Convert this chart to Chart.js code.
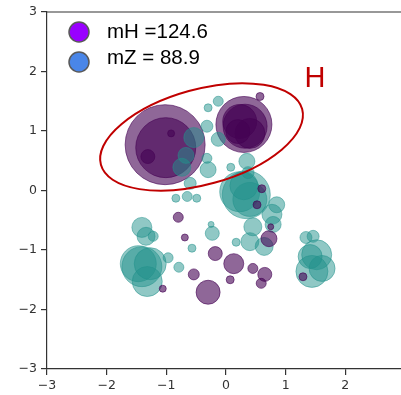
<!DOCTYPE html>
<html>
<head>
<meta charset="utf-8">
<script src="https://cdn.jsdelivr.net/npm/chart.js@4/dist/chart.umd.min.js"></script>
<style>
  html, body { margin: 0; padding: 0; overflow: hidden; background: #fff; }
  canvas { display: block; }
</style>
</head>
<body>
<canvas id="bubbleChart" width="412" height="395"></canvas>
<script>
// large purple bubbles (drawn behind the teal ones)
var bigPurpleX = [-1.02, -1.01, -0.92, -1.31, 0.30, 0.32, 0.23, 0.40, 0.20, 0.57];
var bigPurpleY = [0.77, 0.72, 0.96, 0.57, 1.11, 1.08, 1.16, 0.96, 0.99, 1.58];
var bigPurpleR = [40, 30, 3.5, 7, 28, 22, 17, 15, 12, 4];

// small purple bubbles (drawn on top)
var smallPurpleX = [-0.80, -0.69, -0.18, -0.54, -0.30, -1.06, 0.13, 0.07, 0.45, 0.65, 0.59, 0.72, 0.75, 1.29, 0.60, 0.52];
var smallPurpleY = [-0.45, -0.79, -1.06, -1.41, -1.71, -1.65, -1.23, -1.50, -1.31, -1.41, -1.56, -0.81, -0.61, -1.45, 0.03, -0.24];
var smallPurpleR = [5, 3.5, 7, 5.5, 12, 3.5, 10, 4, 5, 7, 5, 8, 3, 4, 4, 4];

// teal bubbles
var tealX = [0.34, 0.23, 0.40, 0.30, 0.85, 0.77, 0.45, 0.40, 0.64, 0.79, 0.17, -0.23, -0.25, -0.57,
             -1.41, -1.34, -1.22, -1.41, -1.47, -1.32, -1.27, -0.97, -0.79, -0.84, -0.65, -0.49,
             1.46, 1.34, 1.52, 1.44, 1.61, 1.41,
             -0.13, -0.30, -0.32, -0.54, -0.13, -0.67, -0.74, -0.32, -0.30, -0.60, 0.08, 0.35, 0.37];
var tealY = [-0.07, -0.02, -0.15, 0.08, -0.24, -0.40, -0.61, -0.86, -0.94, -0.57, -0.87, -0.72, -0.57, -0.97,
             -0.62, -0.77, -0.77, -1.28, -1.23, -1.53, -1.23, -1.13, -1.29, -0.13, -0.10, -0.13,
             -0.77, -0.79, -1.08, -1.36, -1.31, -1.11,
             1.50, 1.39, 1.08, 0.89, 0.86, 0.59, 0.39, 0.54, 0.35, 0.12, 0.39, 0.49, 0.30];
var tealR = [24, 20, 17, 14, 8, 10, 9, 9, 9, 8, 4, 7, 3, 4,
             10, 9, 5, 20, 18, 15, 16, 5, 5, 4, 5, 4,
             6, 6, 15, 16, 13, 12,
             5, 4, 6, 10, 7, 8, 9, 5, 8, 6, 4, 8, 6];

var legendLabels = ['mH =124.6', 'mZ = 88.9'];
var legendColors = ['#9900ff', '#4a86e8'];

// ellipse around the H cluster, in data units
var ellipseCenter = [-0.41, 0.90];
var ellipseRadii = [1.75, 0.80];
var ellipseAngle = 15.5;
var ellipseLabel = 'H';
var ellipseLabelPos = [1.49, 1.88];

var tickValues = [-3, -2, -1, 0, 1, 2, 3];

function toPoints(xs, ys, rs) {
    return xs.map(function (x, i) { return { x: x, y: ys[i], r: rs[i] }; });
}

function minusLabel(v) {
    return v < 0 ? '\u2212' + Math.abs(v) : String(v);
}

var purple = 'rgba(68, 1, 84, 0.6)';
var teal = 'rgba(33, 145, 140, 0.5)';

var extras = {
    id: 'extras',
    afterDraw: function (chart) {
        var c = chart.ctx, a = chart.chartArea;
        var xs = chart.scales.x, ys = chart.scales.y;
        c.save();
        // frame (top spine)
        c.strokeStyle = '#333';
        c.lineWidth = 1.2;
        c.beginPath();
        c.moveTo(a.left, a.top);
        c.lineTo(a.right, a.top);
        c.lineTo(a.right, a.bottom);
        c.stroke();

        // ellipse
        var cx = xs.getPixelForValue(ellipseCenter[0]);
        var cy = ys.getPixelForValue(ellipseCenter[1]);
        var rx = Math.abs(xs.getPixelForValue(ellipseRadii[0]) - xs.getPixelForValue(0));
        var ry = Math.abs(ys.getPixelForValue(ellipseRadii[1]) - ys.getPixelForValue(0));
        c.strokeStyle = '#c00000';
        c.lineWidth = 2;
        c.beginPath();
        c.ellipse(cx, cy, rx, ry, -ellipseAngle * Math.PI / 180, 0, Math.PI * 2);
        c.stroke();

        c.fillStyle = '#c00000';
        c.font = '29px "Liberation Sans", Arial, sans-serif';
        c.textAlign = 'center';
        c.textBaseline = 'middle';
        c.fillText(ellipseLabel, xs.getPixelForValue(ellipseLabelPos[0]), ys.getPixelForValue(ellipseLabelPos[1]));

        // legend
        c.textAlign = 'left';
        c.font = '20.5px "Liberation Sans", Arial, sans-serif';
        for (var i = 0; i < legendLabels.length; i++) {
            var ly = 32 + i * 30;
            c.beginPath();
            c.arc(79, ly, 10, 0, Math.PI * 2);
            c.fillStyle = legendColors[i];
            c.fill();
            c.strokeStyle = '#595959';
            c.lineWidth = 1.5;
            c.stroke();
            c.fillStyle = '#000';
            c.fillText(legendLabels[i], 107, ly - (i ? 4 : 0));
        }
        c.restore();
    }
};

var axisFont = { family: '"DejaVu Sans", sans-serif', size: 12.5 };

var ctx = document.getElementById('bubbleChart').getContext('2d');
var chart = new Chart(ctx, {
    type: 'bubble',
    data: {
        datasets: [{
            data: toPoints(smallPurpleX, smallPurpleY, smallPurpleR),
            backgroundColor: purple,
            borderColor: purple,
            borderWidth: 1,
            order: 0
        }, {
            data: toPoints(tealX, tealY, tealR),
            backgroundColor: teal,
            borderColor: teal,
            borderWidth: 1,
            order: 1
        }, {
            data: toPoints(bigPurpleX, bigPurpleY, bigPurpleR),
            backgroundColor: purple,
            borderColor: purple,
            borderWidth: 1,
            order: 2
        }]
    },
    options: {
        responsive: false,
        animation: false,
        layout: { autoPadding: false, padding: { top: 12, right: 7, left: 0, bottom: 0 } },
        plugins: {
            legend: { display: false },
            tooltip: { enabled: false }
        },
        scales: {
            x: {
                type: 'linear',
                min: -3, max: 3,
                afterBuildTicks: function (s) { s.ticks = tickValues.map(function (v) { return { value: v }; }); },
                afterFit: function (s) { s.height = 26; },
                grid: { drawOnChartArea: false, drawTicks: true, tickLength: 6, tickColor: '#333', lineWidth: 1.2 },
                border: { color: '#333', width: 1.2 },
                ticks: { color: '#333', font: axisFont, padding: 3, maxRotation: 0, callback: minusLabel }
            },
            y: {
                type: 'linear',
                min: -3, max: 3,
                afterBuildTicks: function (s) { s.ticks = tickValues.map(function (v) { return { value: v }; }); },
                afterFit: function (s) { s.width = 47; },
                grid: { drawOnChartArea: false, drawTicks: true, tickLength: 6, tickColor: '#333', lineWidth: 1.2 },
                border: { color: '#333', width: 1.2 },
                ticks: { color: '#333', font: axisFont, padding: 4, callback: minusLabel }
            }
        }
    },
    plugins: [extras]
});
</script>
</body>
</html>
